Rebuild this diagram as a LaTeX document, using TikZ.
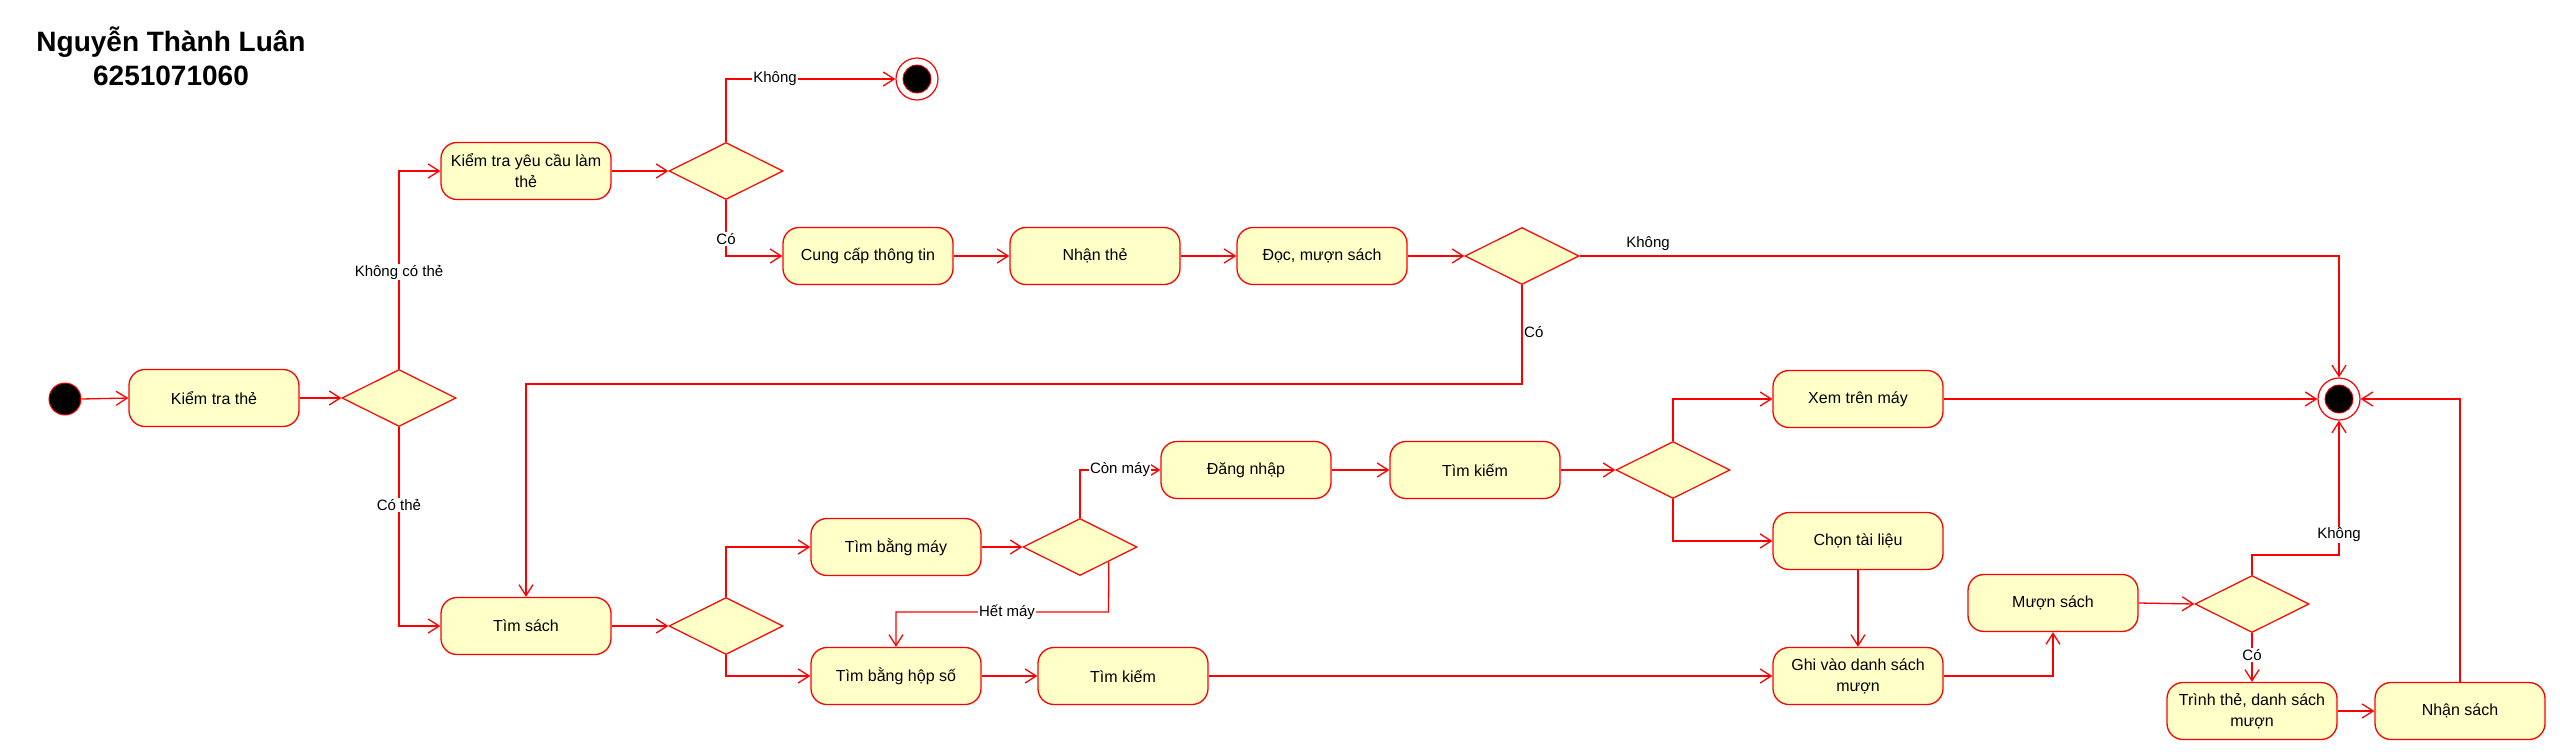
\documentclass[tikz,border=0pt]{standalone}
\usepackage{fontspec}
\setmainfont{Liberation Sans}
\usetikzlibrary{shapes.geometric,arrows.meta}
\definecolor{umlred}{RGB}{255,0,0}
\definecolor{umlfill}{RGB}{255,255,200}
\begin{document}
\begin{tikzpicture}[x=1pt,y=-1pt,
  act/.style={rectangle, rounded corners=16pt, draw=umlred, line width=1.3pt, fill=umlfill,
    minimum width=170pt, minimum height=57pt, align=center, inner sep=2pt,
    font=\fontsize{16}{21}\selectfont},
  dec/.style={diamond, draw=umlred, line width=1.2pt, fill=umlfill,
    minimum width=114pt, minimum height=57pt, inner sep=0pt},
  startnode/.style={circle, draw=umlred, fill=black, minimum size=32pt, inner sep=0pt, line width=1pt},
  finnode/.style={circle, draw=umlred, fill=white, minimum size=42pt, inner sep=0pt, line width=1.2pt},
  fininner/.style={circle, draw=umlred, fill=black, minimum size=28pt, inner sep=0pt, line width=0.8pt},
  flow/.style={draw=umlred, line width=1.3pt, -{Straight Barb[length=11pt,width=14pt,line width=1.3pt]}},
  lbl/.style={fill=white, inner sep=1pt, font=\fontsize{15}{18}\selectfont},
  lblc/.style={inner sep=1pt, font=\fontsize{15}{18}\selectfont},
  titlefont/.style={font=\fontsize{28}{33}\selectfont\bfseries}
]
\useasboundingbox (0,0) rectangle (2560,755);

% title
\node[titlefont, anchor=base] (t1) at (171,51) {Nguyễn Thành Luân};
\node[titlefont, anchor=base] (t2) at (171,85) {6251071060};

% nodes
\node[startnode] (s0) at (65,399) {};
\node[act] (kt) at (214,398) {Kiểm tra thẻ};
\node[dec] (dthe) at (399,398) {};
\node[act] (kyc) at (526,171) {Kiểm tra yêu cầu làm\\thẻ};
\node[dec] (dyc) at (726,171) {};
\node[finnode] (f1) at (917,79) {};
\node[fininner] (f1i) at (917,79) {};
\node[act] (ccap) at (868,256) {Cung cấp thông tin};
\node[act] (nthe) at (1095,256) {Nhận thẻ};
\node[act] (doc) at (1322,256) {Đọc, mượn sách};
\node[dec] (ddoc) at (1522,256) {};
\node[finnode] (f2) at (2339,399) {};
\node[fininner] (f2i) at (2339,399) {};
\node[act] (tsach) at (526,626) {Tìm sách};
\node[dec] (dtim) at (726,626) {};
\node[act] (tmay) at (896,547) {Tìm bằng máy};
\node[dec] (dmay) at (1080,547) {};
\node[act] (dnhap) at (1246,470) {Đăng nhập};
\node[act] (tk1) at (1475,470) {Tìm kiếm};
\node[dec] (dtk) at (1673,470) {};
\node[act] (xem) at (1858,399) {Xem trên máy};
\node[act] (chon) at (1858,541) {Chọn tài liệu};
\node[act] (hop) at (896,676) {Tìm bằng hộp số};
\node[act] (tk2) at (1123,676) {Tìm kiếm};
\node[act] (ghi) at (1858,676) {Ghi vào danh sách\\mượn};
\node[act] (muon) at (2053,603) {Mượn sách};
\node[dec] (dmuon) at (2252,604) {};
\node[act] (trinh) at (2252,711) {Trình thẻ, danh sách\\mượn};
\node[act] (nhan) at (2460,711) {Nhận sách};

% turning points
\coordinate (ddocturn) at (1522,384);
\coordinate (hetturn) at (1108.5,612);
\coordinate (kturn) at (2252,555);

% connectors
\draw[flow] (s0.east) -- (kt.west);
\draw[flow] (kt.east) -- (dthe.west);
\draw[flow] (dthe.north) |- (kyc.west);
\draw[flow] (dthe.south) |- (tsach.west);
\draw[flow] (kyc.east) -- (dyc.west);
\draw[flow] (dyc.north) |- (f1.west);
\draw[flow] (dyc.south) |- (ccap.west);
\draw[flow] (ccap.east) -- (nthe.west);
\draw[flow] (nthe.east) -- (doc.west);
\draw[flow] (doc.east) -- (ddoc.west);
\draw[flow] (ddoc.east) -| (f2.north);
\draw[flow] (ddoc.south) -- (ddocturn) -| (tsach.north);
\draw[flow] (tsach.east) -- (dtim.west);
\draw[flow] (dtim.north) |- (tmay.west);
\draw[flow] (dtim.south) |- (hop.west);
\draw[flow] (tmay.east) -- (dmay.west);
\draw[flow] (dmay.north) |- (dnhap.west);
\draw[flow] (dmay.south east) -- (hetturn) -| (hop.north);
\draw[flow] (dnhap.east) -- (tk1.west);
\draw[flow] (tk1.east) -- (dtk.west);
\draw[flow] (dtk.north) |- (xem.west);
\draw[flow] (dtk.south) |- (chon.west);
\draw[flow] (xem.east) -- (f2.west);
\draw[flow] (chon.south) -- (ghi.north);
\draw[flow] (hop.east) -- (tk2.west);
\draw[flow] (tk2.east) -- (ghi.west);
\draw[flow] (ghi.east) -| (muon.south);
\draw[flow] (muon.east) -- (dmuon.west);
\draw[flow] (dmuon.north) -- (kturn) -| (f2.south);
\draw[flow] (dmuon.south) -- (trinh.north);
\draw[flow] (trinh.east) -- (nhan.west);
\draw[flow] (nhan.north) |- (f2.east);

% labels
\node[lbl] (l1) at (399,272) {Không có thẻ};
\node[lbl] (l2) at (399,505) {Có thẻ};
\node[lbl] (l3) at (775,79) {Không};
\node[lbl] (l4) at (726,239) {Có};
\node[lblc] (l5) at (1648,244) {Không};
\node[lblc, anchor=west] (l6) at (1523,332) {Có};
\node[lbl] (l7) at (1120,470) {Còn máy};
\node[lbl] (l8) at (1007,612) {Hết máy};
\node[lbl] (l9) at (2339,535) {Không};
\node[lbl] (l10) at (2252,655) {Có};
\end{tikzpicture}
\end{document}
